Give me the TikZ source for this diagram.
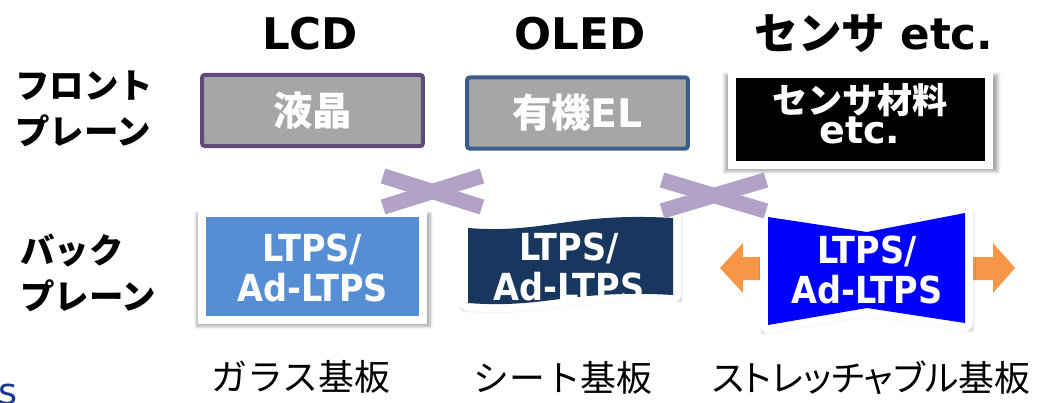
\documentclass[tikz,border=0pt]{standalone}
\usepackage{fontspec}
\setmainfont{DejaVu Sans}
\newfontfamily\jp{Noto Sans CJK JP}
\newfontfamily\cond{DejaVu Sans Condensed}[BoldFont={DejaVu Sans Condensed Bold}]
\usepackage{tikz}
\usetikzlibrary{shadows}
\usetikzlibrary{shadows.blur}
\definecolor{lcdpurple}{RGB}{96,74,123}
\definecolor{oledblue}{RGB}{56,93,138}
\definecolor{plategray}{RGB}{166,166,166}
\definecolor{lcdblue}{RGB}{85,142,213}
\definecolor{oledback}{RGB}{23,55,94}
\definecolor{stretchblue}{RGB}{0,0,255}
\definecolor{pullorange}{RGB}{247,150,70}
\definecolor{crosspurple}{RGB}{179,162,199}
\definecolor{cutnavy}{RGB}{31,56,140}
\tikzstyle{title}=[anchor=base,inner sep=0pt,font=\fontsize{31}{36}\selectfont\bfseries]
\tikzstyle{side}=[anchor=west,align=left,inner sep=0pt,font=\jp\bfseries\fontsize{24.5}{32.7}\selectfont]
\tikzstyle{front}=[rectangle,rounded corners=2pt,fill=plategray,line width=2.85pt,minimum width=5.52cm,minimum height=1.78cm,inner sep=0pt,text=white,font=\jp\bfseries\fontsize{28}{32}\selectfont]
\tikzstyle{shade}=[blur shadow={shadow xshift=0.6pt,shadow yshift=-2.4pt,shadow scale=1.06,shadow opacity=35,shadow blur steps=6}]
\tikzstyle{back}=[rectangle,draw=white,line width=5.7pt,inner sep=0pt,shade]
\tikzstyle{backframe}=[draw=white,fill=white,line width=11.4pt,line join=round,shade]
\tikzstyle{backtext}=[align=center,inner sep=0pt,text=white,font=\cond\bfseries\fontsize{26.5}{29}\selectfont]
\tikzstyle{substrate}=[inner sep=0pt,font=\jp\fontsize{25.5}{30}\selectfont]
\tikzstyle{cross}=[draw=crosspurple,line width=11pt]
\tikzstyle{pull}=[fill=pullorange]
\def\oledwave{(468,228) .. controls (545,234) and (570,212) .. (673,218) -- (673,295) .. controls (570,289) and (545,309) .. (468,303) -- cycle}
\def\stretchpath{(768,217) -- (867,232) -- (965,213) -- (965,323) -- (867,308) -- (768,325) -- cycle}
\begin{document}
\begin{tikzpicture}[x=0.025cm,y=-0.025cm]
\useasboundingbox (0,0) rectangle (1041,402);
    % column titles
    \foreach \pos/\name/\label in {{(310,49)/lcd/LCD}, {(580,49)/oled/OLED}, {(874,49)/sensor/{\jp センサ} etc.}}
            \node[title] (\name) at \pos {\label};

    % row titles
    \node[side] (frontrow) at (15,109) {フロント\\プレーン};
    \node[side] (backrow) at (20,273) {バック\\プレーン};

    % front planes
    \node[front,draw=lcdpurple] (lcdfront) at (312.5,110.5) {液晶};
    \node[front,draw=oledblue] (oledfront) at (577.5,113) {有機{\fontspec{DejaVu Sans}\bfseries EL}};
    \node[back,fill=black,minimum width=6.43cm,minimum height=2.28cm] (sensorfront) at (860.5,119.5) {};
    \node[align=center,inner sep=0pt,text=white] (sensortext) at (860,114)
        {{\jp\bfseries\fontsize{25}{23}\selectfont センサ材料}\\[-1pt]{\bfseries\fontsize{27}{23}\selectfont etc.}};

    % back planes
    \node[back,fill=lcdblue,minimum width=5.5cm,minimum height=2.65cm] (lcdback) at (312.5,266.5) {};
    \node[backtext] (lcdtext) at (312.5,268) {LTPS/\\Ad-LTPS};

    \path[backframe] \oledwave;
    \fill[oledback] \oledwave;
    \begin{scope}
    \clip \oledwave;
    \node[backtext] (oledtext) at (569,267) {LTPS/\\Ad-LTPS};
    \end{scope}

    % stretching arrows go under the sheet
    \fill[pull] (780,257) -- (743,257) -- (743,243) -- (720,268) -- (743,293) -- (743,280) -- (780,280) -- cycle;
    \fill[pull] (955,257) -- (993,257) -- (993,243) -- (1015,268) -- (993,293) -- (993,280) -- (955,280) -- cycle;
    \path[backframe] \stretchpath;
    \fill[stretchblue] \stretchpath;
    \node[backtext] (stretchtext) at (867,270) {LTPS/\\Ad-LTPS};

    % substrates
    \foreach \pos/\name/\label in {{(301,377)/glass/ガラス基板}, {(563,378)/sheet/シート基板}, {(871,378)/stretch/{\addfontfeatures{RawFeature=+palt}ストレッチャブル基板}}}
            \node[substrate] (\name) at \pos {\label};

    % crosses between front and back
    \foreach \x/\y/\w in {383/176/99, 662/180/104}
    {
        \draw[cross] (\x,\y) -- ++(\w,31);
        \draw[cross] (\x,\y+31) -- ++(\w,-31);
    }

    \node[anchor=base west,inner sep=0pt,text=cutnavy,font=\fontsize{26}{30}\selectfont] (cut) at (-2,404) {s};
\end{tikzpicture}
\end{document}
